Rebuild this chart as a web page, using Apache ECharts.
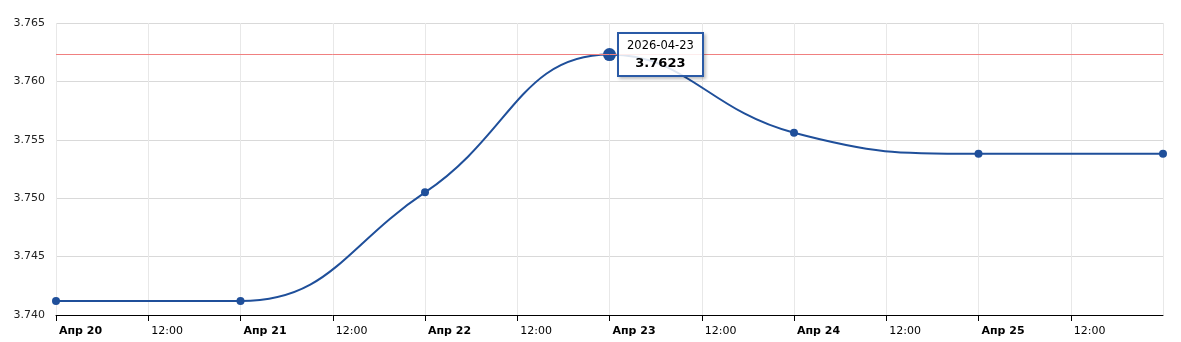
<!DOCTYPE html>
<html><head><meta charset="utf-8">
<script src="https://cdn.jsdelivr.net/npm/echarts@6/dist/echarts.min.js"></script>
<style>html,body{margin:0;padding:0;background:#fff}#c{width:1181px;height:342px}</style>
</head><body><div id="c"></div>
<script>
// hours since Apr 20 00:00
const pointHours = [0, 24, 48, 72, 96, 120, 144];
const pointDates = ['2026-04-20','2026-04-21','2026-04-22','2026-04-23','2026-04-24','2026-04-25','2026-04-26'];
const rates = [3.7412, 3.7412, 3.7505, 3.7623, 3.7556, 3.7538, 3.7538];
const xTickLabels = ['Апр 20','12:00','Апр 21','12:00','Апр 22','12:00','Апр 23','12:00','Апр 24','12:00','Апр 25','12:00','Апр 26'];
const yTicks = [3.740, 3.745, 3.750, 3.755, 3.760, 3.765];
const maxRate = 3.7623;
const highlightIndex = 3;

const chart = echarts.init(document.getElementById('c'), null, {renderer:'canvas'});
const FONT = 'DejaVu Sans, Verdana, sans-serif';
const data = pointHours.map((h, i) => ({
  value: [h, rates[i]],
  symbolSize: i === highlightIndex ? 13 : 8
}));
chart.setOption({
  animation: false,
  grid: {left: 56, right: 18, top: 23, bottom: 27},
  tooltip: {
    trigger: 'item',
    alwaysShowContent: true,
    showDelay: 0,
    transitionDuration: 0,
    backgroundColor: 'rgba(255,255,255,0.85)',
    borderColor: '#2a5aa6',
    borderWidth: 2,
    padding: [3, 8, 4, 8],
    extraCssText: 'border-radius:0;box-shadow:2px 2px 3px rgba(0,0,0,0.25);text-align:center;',
    position: function (p) { return [p[0] + 7, p[1] - 23]; },
    formatter: function (p) {
      const i = p.dataIndex;
      return '<div style="font-family:DejaVu Sans,Verdana,sans-serif;color:#000;line-height:17px">' +
        '<div style="font-size:11.5px">' + pointDates[i] + '</div>' +
        '<div style="font-size:13px;font-weight:bold">' + rates[i].toFixed(4) + '</div></div>';
    }
  },
  xAxis: {
    type: 'value',
    min: 0, max: 144, interval: 12,
    axisLine: {show: true, lineStyle: {color: '#000', width: 1}},
    axisTick: {show: true, length: 6, lineStyle: {color: '#000'}},
    splitLine: {show: true, lineStyle: {color: '#e8e8e8', width: 1}},
    axisLabel: {
      showMaxLabel: false,
      align: 'left',
      margin: 11,
      padding: [0, 0, 0, 3],
      fontFamily: FONT,
      fontSize: 11,
      color: '#000',
      formatter: function (v) {
        const t = xTickLabels[Math.round(v / 12)];
        return (Math.round(v) % 24 === 0) ? '{b|' + t + '}' : '{n|' + t + '}';
      },
      rich: {
        b: {fontWeight: 'bold', fontFamily: FONT, fontSize: 11, color: '#000'},
        n: {fontFamily: FONT, fontSize: 11, color: '#000'}
      }
    }
  },
  yAxis: {
    type: 'value',
    min: yTicks[0], max: yTicks[yTicks.length - 1], interval: 0.005,
    axisLine: {show: false},
    axisTick: {show: false},
    splitLine: {show: true, lineStyle: {color: '#d9d9d9', width: 1}},
    axisLabel: {
      margin: 11,
      fontFamily: FONT, fontSize: 11, color: '#222',
      formatter: v => v.toFixed(3)
    }
  },
  series: [{
    type: 'line',
    data: data,
    smooth: 0.45,
    symbol: 'circle',
    lineStyle: {color: '#1f4f9a', width: 2},
    itemStyle: {color: '#1f4f9a'},
    emphasis: {disabled: true},
    markLine: {
      silent: true,
      precision: 4,
      symbol: ['none', 'none'],
      label: {show: false},
      lineStyle: {color: '#f08080', width: 1, type: 'solid'},
      data: [{yAxis: maxRate}]
    }
  }]
});
chart.dispatchAction({type: 'showTip', seriesIndex: 0, dataIndex: highlightIndex});
</script></body></html>
